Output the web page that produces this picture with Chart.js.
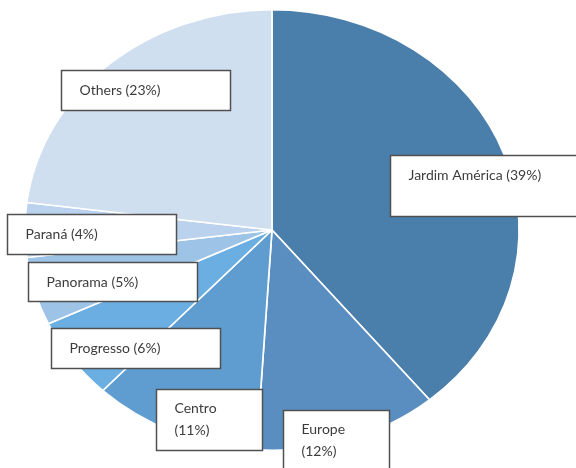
<!DOCTYPE html>
<html>
<head>
<meta charset="utf-8">
<script src="https://cdn.jsdelivr.net/npm/chart.js@4/dist/chart.umd.min.js"></script>
<style>
  html, body { margin: 0; padding: 0; background: #ffffff; }
  #wrap { width: 576px; height: 468px; overflow: hidden; }
  canvas { display: block; }
</style>
</head>
<body>
<div id="wrap"><canvas id="chart" width="576" height="468"></canvas></div>
<script>
// Neighbourhood shares, clockwise from 12 o'clock
const categories = ['Jardim América', 'Europe', 'Centro', 'Progresso', 'Panorama', 'Paraná', 'Others'];
const shares = [39, 12, 11, 6, 5, 4, 23];

// Slice fill colours, same order as the categories
const palette = ['#4a7eab', '#5a8ec0', '#5f9dd1', '#6aaee2', '#9dc3e6', '#bad2ed', '#d0dff0'];

// Callout boxes: offset from the pie centre, size, and whether the
// percentage goes on a second line
const callouts = {
  'Jardim América': { dx: 118,  dy: -75,  w: 200, h: 61, wrap: false },
  'Europe':         { dx: 11,   dy: 180,  w: 106, h: 70, wrap: true  },
  'Centro':         { dx: -116, dy: 159,  w: 106, h: 61, wrap: true  },
  'Progresso':      { dx: -221, dy: 98,   w: 169, h: 40, wrap: false },
  'Panorama':       { dx: -244, dy: 32,   w: 169, h: 39, wrap: false },
  'Paraná':         { dx: -265, dy: -16,  w: 169, h: 40, wrap: false },
  'Others':         { dx: -211, dy: -160, w: 169, h: 40, wrap: false }
};

// The pie is drawn slightly wider than tall
const STRETCH_X = 1.122;

const ellipsePlugin = {
  id: 'ellipse',
  beforeDatasetsDraw(chart) {
    const arc = chart.getDatasetMeta(0).data[0];
    const ctx = chart.ctx;
    ctx.save();
    ctx.translate(arc.x, 0);
    ctx.scale(STRETCH_X, 1);
    ctx.translate(-arc.x, 0);
  },
  afterDatasetsDraw(chart) {
    chart.ctx.restore();
  }
};

const calloutPlugin = {
  id: 'callouts',
  afterDraw(chart) {
    const ctx = chart.ctx;
    const arc = chart.getDatasetMeta(0).data[0];
    const cx = arc.x, cy = arc.y;
    const labels = chart.data.labels;
    const values = chart.data.datasets[0].data;
    ctx.save();
    labels.forEach((name, i) => {
      const c = callouts[name];
      if (!c) return;
      const x = Math.round(cx + c.dx) + 0.5;
      const y = Math.round(cy + c.dy) + 0.5;
      ctx.fillStyle = '#ffffff';
      ctx.fillRect(x, y, c.w, c.h);
      ctx.strokeStyle = '#505050';
      ctx.lineWidth = 1.5;
      ctx.strokeRect(x, y, c.w, c.h);
      ctx.fillStyle = '#3c3c3c';
      ctx.font = '14px Lato, "Open Sans", sans-serif';
      ctx.textBaseline = 'middle';
      ctx.textAlign = 'left';
      const pct = '(' + values[i] + '%)';
      if (c.wrap) {
        ctx.fillText(name, x + 18, y + 19);
        ctx.fillText(pct, x + 18, y + 41);
      } else {
        ctx.fillText(name + ' ' + pct, x + 18, y + 20);
      }
    });
    ctx.restore();
  }
};

new Chart(document.getElementById('chart'), {
  type: 'pie',
  data: {
    labels: categories,
    datasets: [{
      data: shares,
      backgroundColor: palette,
      borderColor: '#ffffff',
      borderWidth: 1.5
    }]
  },
  options: {
    responsive: false,
    animation: false,
    events: [],
    layout: { padding: { top: 9, bottom: 17, left: 51, right: 83 } },
    plugins: {
      legend: { display: false },
      tooltip: { enabled: false }
    }
  },
  plugins: [ellipsePlugin, calloutPlugin]
});
</script>
</body>
</html>
